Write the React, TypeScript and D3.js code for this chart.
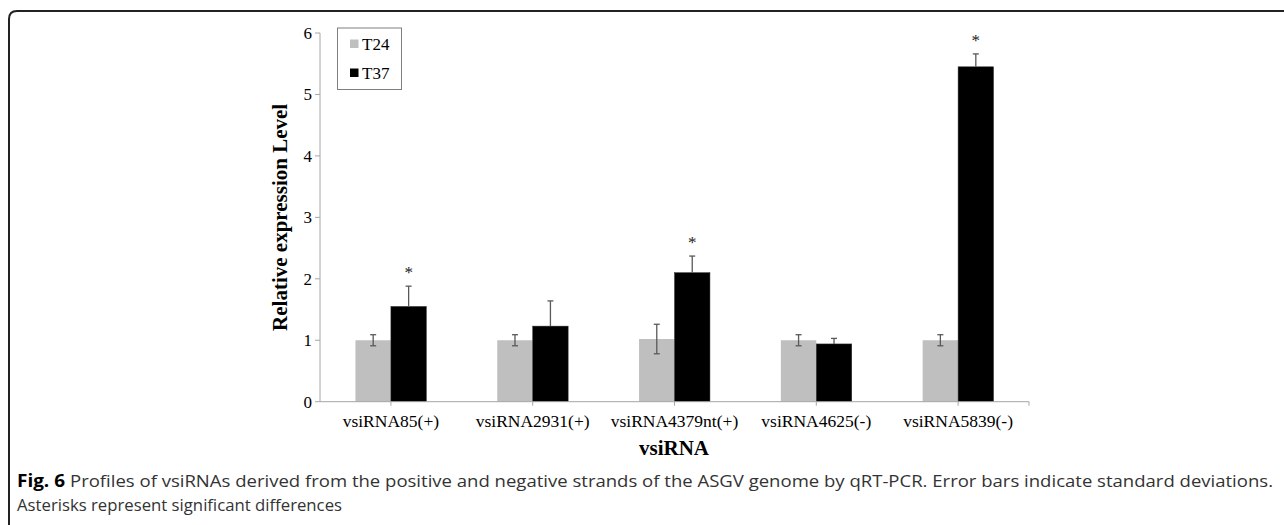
import React from "react";
import * as d3 from "d3";

const categories = ["vsiRNA85(+)", "vsiRNA2931(+)", "vsiRNA4379nt(+)", "vsiRNA4625(-)", "vsiRNA5839(-)"];
const seriesNames = ["T24", "T37"];
const t24Values = [1.0, 1.0, 1.02, 1.0, 1.0];
const t24Errors = [0.09, 0.09, 0.24, 0.09, 0.09];
const t37Values = [1.55, 1.23, 2.1, 0.94, 5.45];
const t37Errors = [0.33, 0.41, 0.27, 0.09, 0.21];
const significant = [true, false, true, false, true];
const yTicks = [0, 1, 2, 3, 4, 5, 6];

const serif = "'Liberation Serif', 'Times New Roman', serif";
const sans = "'Open Sans', 'Noto Sans', sans-serif";

export default function App() {
  const left = 320, right = 1029, top = 33, bottom = 401.7;
  const x = d3.scaleBand<string>().domain(categories).range([left, right]).paddingInner(0).paddingOuter(0);
  const y = d3.scaleLinear().domain([0, 6]).range([bottom, top]);
  const bw = x.bandwidth();
  const barW = bw / 4;
  const colors = ["#bfbfbf", "#000000"];
  const errColor = "#595959";
  const cap = 3;

  return (
    <svg width={1284} height={525} style={{ position: "absolute", left: 0, top: 0, background: "#fff" }}>
      {/* frame */}
      <path d="M9,525 L9,19 Q9,11 17,11 L1284,11" fill="none" stroke="#222" strokeWidth={2} />

      {/* y axis */}
      <line x1={left} x2={left} y1={top} y2={bottom} stroke="#a6a6a6" strokeWidth={1} />
      {yTicks.map((t) => (
        <g key={t}>
          <line x1={left - 5} x2={left} y1={y(t)} y2={y(t)} stroke="#a6a6a6" />
          <text x={left - 8} y={y(t)} dy="0.35em" textAnchor="end" fontFamily={serif} fontSize={17} fill="#000">
            {t}
          </text>
        </g>
      ))}

      {/* bars */}
      {categories.map((c, i) => {
        const cx = (x(c) as number) + bw / 2;
        const xs = [cx - barW, cx];
        const vals = [t24Values[i], t37Values[i]];
        const errs = [t24Errors[i], t37Errors[i]];
        return (
          <g key={c}>
            {vals.map((v, k) => (
              <rect key={k} x={xs[k]} y={y(v)} width={barW} height={y(0) - y(v)} fill={colors[k]} stroke={k === 1 ? "#333" : "none"} strokeWidth={0.5} />
            ))}
            {vals.map((v, k) => {
              const ex = xs[k] + barW / 2;
              const hi = y(v + errs[k]);
              const lo = k === 0 ? y(v - errs[k]) : y(v);
              return (
                <g key={"e" + k} stroke={errColor} strokeWidth={1.3}>
                  <line x1={ex} x2={ex} y1={hi} y2={lo} />
                  <line x1={ex - cap} x2={ex + cap} y1={hi} y2={hi} />
                  {k === 0 && <line x1={ex - cap} x2={ex + cap} y1={lo} y2={lo} />}
                </g>
              );
            })}
            {significant[i] && (
              <text x={xs[1] + barW / 2} y={y(t37Values[i] + t37Errors[i]) - 20} dy="0.7em" textAnchor="middle" fontFamily={serif} fontSize={17} fill="#222">
                *
              </text>
            )}
          </g>
        );
      })}

      {/* x axis */}
      <line x1={left} x2={right} y1={bottom} y2={bottom} stroke="#a6a6a6" strokeWidth={1} />
      {categories.map((c) => {
        const cx = (x(c) as number) + bw / 2;
        return <line key={"t" + c} x1={cx} x2={cx} y1={bottom} y2={bottom + 4} stroke="#a6a6a6" />;
      })}
      <line x1={right} x2={right} y1={bottom} y2={bottom + 4} stroke="#a6a6a6" />
      {categories.map((c) => (
        <text key={"l" + c} x={(x(c) as number) + bw / 2} y={427} textAnchor="middle" fontFamily={serif} fontSize={17.5} fill="#000">
          {c}
        </text>
      ))}

      {/* axis titles */}
      <text x={674} y={455} textAnchor="middle" fontFamily={serif} fontWeight="bold" fontSize={21} fill="#000">
        vsiRNA
      </text>
      <text transform={`translate(287,${(top + bottom) / 2}) rotate(-90)`} textAnchor="middle" fontFamily={serif} fontWeight="bold" fontSize={21} fill="#000">
        Relative expression Level
      </text>

      {/* legend */}
      <rect x={337.5} y={28} width={64} height={61.5} fill="#fff" stroke="#7f7f7f" strokeWidth={1} />
      {seriesNames.map((s, k) => (
        <g key={s}>
          <rect x={350} y={39.5 + k * 29} width={8.5} height={8.5} fill={colors[k]} />
          <text x={362} y={50 + k * 29} fontFamily={serif} fontSize={17} fill="#000">
            {s}
          </text>
        </g>
      ))}

      {/* caption */}
      <text x={17} y={487} fontFamily={sans} fontWeight="bold" fontSize={17} fill="#000" textLength={48} lengthAdjust="spacingAndGlyphs">
        Fig. 6
      </text>
      <text x={70} y={487} fontFamily={sans} fontSize={17} fill="#333" textLength={1203} lengthAdjust="spacingAndGlyphs">
        Profiles of vsiRNAs derived from the positive and negative strands of the ASGV genome by qRT-PCR. Error bars indicate standard deviations.
      </text>
      <text x={17} y={511} fontFamily={sans} fontSize={17} fill="#333" textLength={325} lengthAdjust="spacingAndGlyphs">
        Asterisks represent significant differences
      </text>
    </svg>
  );
}
